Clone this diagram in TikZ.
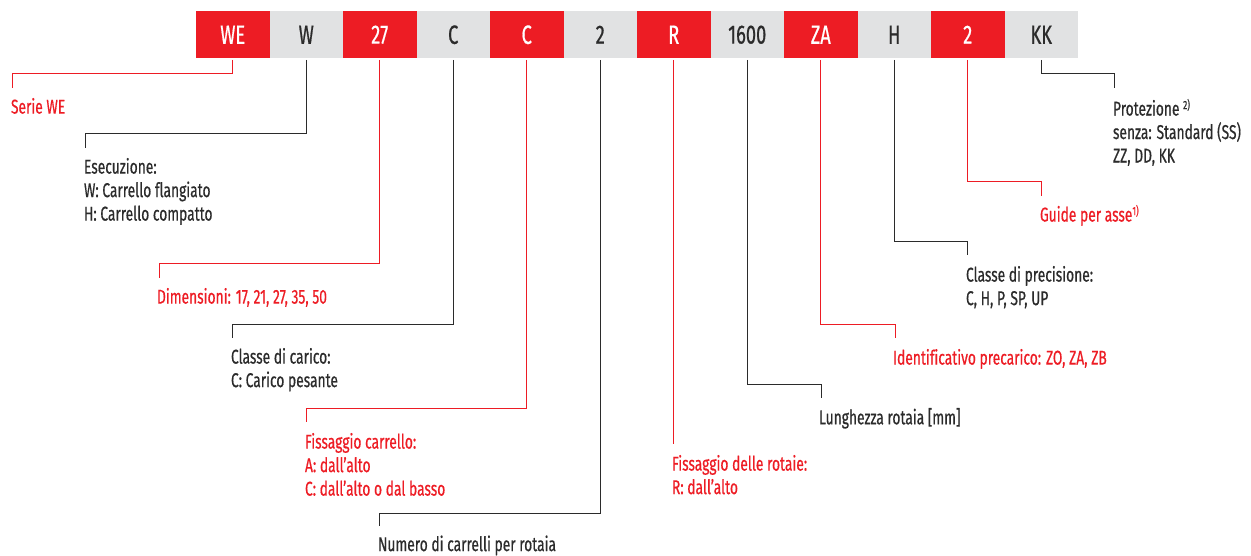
\documentclass[tikz,border=0pt]{standalone}
\usepackage{fontspec}
\setmainfont{Fira Sans}[FakeStretch=0.69,FakeBold=0.6,Ligatures=NoCommon]
\definecolor{wred}{HTML}{ED1C24}
\definecolor{wgray}{HTML}{E1E2E3}
\definecolor{wdark}{HTML}{2B2B2B}
\tikzset{
  codebox/.style={minimum width=73.5pt,minimum height=47.5pt,inner sep=0pt,outer sep=0pt,
    font=\fontsize{26.5}{26.5}\selectfont},
  rbox/.style={codebox,fill=wred,text=white},
  gbox/.style={codebox,fill=wgray,text=wdark},
  rl/.style={draw=wred,line width=1pt},
  bl/.style={draw=wdark,line width=1pt},
  lbl/.style={anchor=north west,inner sep=0pt,outer sep=0pt,align=left,
    font=\fontsize{20}{23.5}\selectfont},
  rlbl/.style={lbl,text=wred},
  blbl/.style={lbl,text=wdark},
}
\newcommand{\supnote}[1]{\raisebox{0.32em}{\fontsize{12}{12}\selectfont #1}}
\begin{document}
\begin{tikzpicture}[x=1pt,y=-1pt]
\useasboundingbox (0,0) rectangle (1251,556);
% code boxes
\node[rbox] (b1)  at (232.75,34.75) {WE};
\node[gbox] (b2)  at (306.25,34.75) {W};
\node[rbox] (b3)  at (379.75,34.75) {27};
\node[gbox] (b4)  at (453.25,34.75) {C};
\node[rbox] (b5)  at (526.75,34.75) {C};
\node[gbox] (b6)  at (600.25,34.75) {2};
\node[rbox] (b7)  at (673.75,34.75) {R};
\node[gbox] (b8)  at (747.25,34.75) {1600};
\node[rbox] (b9)  at (820.75,34.75) {ZA};
\node[gbox] (b10) at (894.25,34.75) {H};
\node[rbox] (b11) at (967.75,34.75) {2};
\node[gbox] (b12) at (1041.25,34.75) {KK};
% corner and end coordinates
\coordinate (h1) at (12,74);   \coordinate (e1) at (12,88);
\coordinate (h2) at (85,134);  \coordinate (e2) at (85,148);
\coordinate (h3) at (159,264); \coordinate (e3) at (159,278);
\coordinate (h4) at (232,324); \coordinate (e4) at (232,338);
\coordinate (h5) at (306,408); \coordinate (e5) at (306,422);
\coordinate (h6) at (379,513); \coordinate (e6) at (379,526);
\coordinate (e7) at (673.75,444);
\coordinate (h8) at (821,384); \coordinate (e8) at (821,398);
\coordinate (h9) at (895,324); \coordinate (e9) at (895,338);
\coordinate (h10) at (967,242); \coordinate (e10) at (967,255);
\coordinate (h11) at (1041,182); \coordinate (e11) at (1041,196);
\coordinate (h12) at (1114,74); \coordinate (e12) at (1114,88);
% labels
\node[rlbl] (t1) at (11,98) {Serie WE};
\node[blbl] (t2) at (84,158) {Esecuzione:\\W: Carrello flangiato\\H: Carrello compatto};
\node[rlbl] (t3) at (157,288) {Dimensioni: 17, 21, 27, 35, 50};
\node[blbl] (t4) at (231,348) {Classe di carico:\\C: Carico pesante};
\node[rlbl] (t5) at (305,433) {Fissaggio carrello:\\A: dall’alto\\C: dall’alto o dal basso};
\node[blbl] (t6) at (378,535.5) {Numero di carrelli per rotaia};
\node[rlbl] (t7) at (672,455) {Fissaggio delle rotaie:\\R: dall’alto};
\node[blbl] (t8) at (819,408) {Lunghezza rotaia [mm]};
\node[rlbl] (t9) at (893,349) {Identificativo precarico: ZO, ZA, ZB};
\node[blbl] (t10) at (966,266) {Classe di precisione:\\C, H, P, SP, UP};
\node[rlbl] (t11) at (1040,205) {Guide per asse\supnote{1)}};
\node[blbl] (t12) at (1113,99) {Protezione \supnote{2)}\\senza: Standard (SS)\\ZZ, DD, KK};
% connectors
\draw[rl] ([yshift=-1.5pt]b1.south) |- (h1) -- (e1);
\draw[bl] ([yshift=-1.5pt]b2.south) |- (h2) -- (e2);
\draw[rl] ([yshift=-1.5pt]b3.south) |- (h3) -- (e3);
\draw[bl] ([yshift=-1.5pt]b4.south) |- (h4) -- (e4);
\draw[rl] ([yshift=-1.5pt]b5.south) |- (h5) -- (e5);
\draw[bl] ([yshift=-1.5pt]b6.south) |- (h6) -- (e6);
\draw[rl] ([yshift=-1.5pt]b7.south) -- (e7);
\draw[bl] ([yshift=-1.5pt]b8.south) |- (h8) -- (e8);
\draw[rl] ([yshift=-1.5pt]b9.south) |- (h9) -- (e9);
\draw[bl] ([yshift=-1.5pt]b10.south) |- (h10) -- (e10);
\draw[rl] ([yshift=-1.5pt]b11.south) |- (h11) -- (e11);
\draw[bl] ([yshift=-1.5pt]b12.south) |- (h12) -- (e12);
\end{tikzpicture}
\end{document}
